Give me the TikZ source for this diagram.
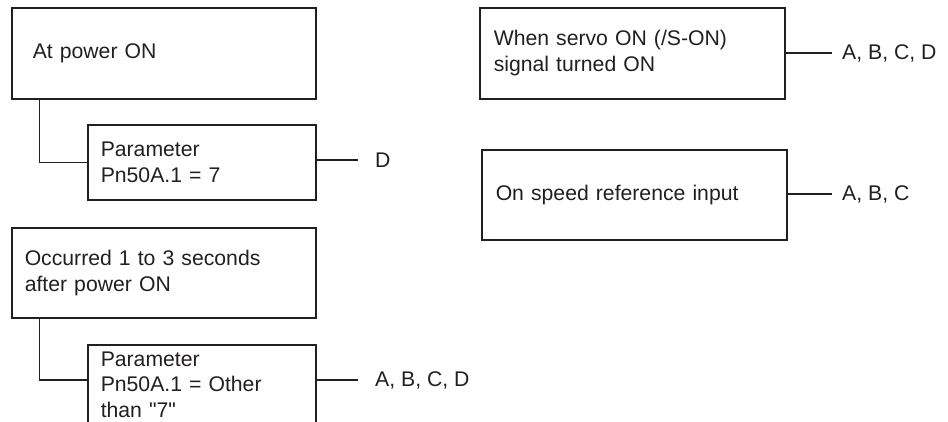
\documentclass[tikz,border=0pt]{standalone}
\usepackage{fontspec}
\setmainfont{Liberation Sans}
\usepackage{tikz}
\usetikzlibrary{positioning}
\definecolor{ink}{HTML}{231F20}
\tikzset{
  condbox/.style={
    draw=ink, line width=1.5pt, anchor=north west, align=left,
    inner ysep=2pt, text=ink,
    font=\fontsize{21.2}{25.7}\selectfont
  },
  reslabel/.style={
    anchor=west, inner ysep=0pt, text=ink,
    font=\fontsize{21.2}{25.7}\selectfont
  },
  wire/.style={draw=ink, line width=1.5pt}
}

\begin{document}
\begin{tikzpicture}[x=1pt,y=-1pt]
  \clip (0,0) rectangle (948,421);
  % left column: power-on conditions
  \node[condbox,text width=262pt,inner xsep=21pt,minimum height=91pt] (powerbox) at (11,7) {At power ON};
  \node[condbox,text width=202pt,inner xsep=13pt,minimum height=75pt] (param7box) at (87,124) {Parameter\\Pn50A.1 = 7};
  \node[condbox,text width=278pt,inner xsep=13pt,minimum height=90pt] (latebox) at (11,227) {Occurred 1 to 3 seconds\\after power ON};
  \node[condbox,text width=202pt,inner xsep=13pt,minimum height=80pt] (paramotherbox) at (87,344) {Parameter\\Pn50A.1 = Other\\than \textquotedbl 7\textquotedbl};
  % right column
  \node[condbox,text width=277pt,inner xsep=14pt,minimum height=91pt] (servobox) at (479,7) {When servo ON (/S-ON)\\signal turned ON};
  \node[condbox,text width=277pt,inner xsep=14pt,minimum height=90pt] (speedbox) at (481,149) {On speed reference input};
  % result labels
  \node[reslabel,inner xsep=17pt] (resD) at (358,160) {D};
  \node[reslabel,inner xsep=17pt] (resABCDlow) at (358,380) {A, B, C, D};
  \node[reslabel,inner xsep=10pt] (resABCDtop) at (832,53) {A, B, C, D};
  \node[reslabel,inner xsep=10pt] (resABC) at (832,194) {A, B, C};
  % connectors
  \draw[wire] (powerbox.south west) ++(28.5,0) |- (param7box.west);
  \draw[wire] (latebox.south west) ++(28.5,0) |- (resABCDlow.west -| paramotherbox.west);
  \draw[wire] (resD.west) -- (resD.west -| param7box.east);
  \draw[wire] (resABCDlow.west) -- (resABCDlow.west -| paramotherbox.east);
  \draw[wire] (resABCDtop.west) -- (resABCDtop.west -| servobox.east);
  \draw[wire] (resABC.west) -- (resABC.west -| speedbox.east);
\end{tikzpicture}
\end{document}
